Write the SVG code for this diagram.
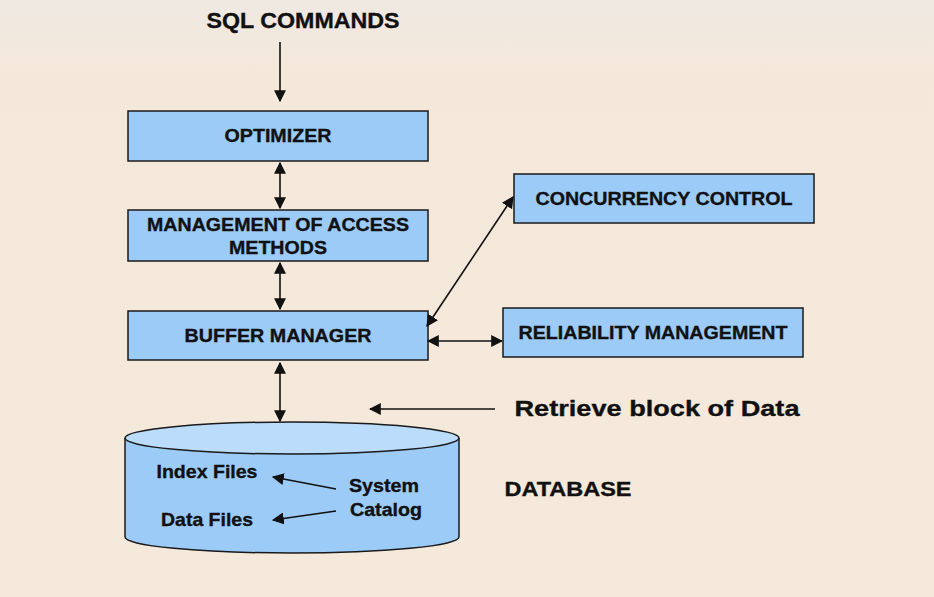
<svg xmlns="http://www.w3.org/2000/svg" width="934" height="597" viewBox="0 0 934 597">
<defs>
<marker id="ah" viewBox="0 0 10 10" refX="9" refY="5" markerWidth="12" markerHeight="12" markerUnits="userSpaceOnUse" orient="auto-start-reverse"><path d="M0,0 L10,5 L0,10 z" fill="#111"/></marker>
<linearGradient id="bg" x1="0" y1="0" x2="0" y2="1"><stop offset="0" stop-color="#efe9e2"/><stop offset="0.12" stop-color="#f4e8da"/><stop offset="1" stop-color="#f5e9dc"/></linearGradient>
</defs>
<style>
.box{fill:#9ccbf7;stroke:#1a1a1a;stroke-width:1.5}
.t{font-family:"Liberation Sans",Arial,sans-serif;font-weight:bold;fill:#111;text-anchor:middle;stroke:#111;stroke-width:0.35}
.bt{font-size:19px}
.c{stroke:#111;stroke-width:1.6;fill:none}
</style>
<rect width="934" height="597" fill="url(#bg)"/>
<text class="t" x="303" y="28" font-size="22" textLength="193" lengthAdjust="spacingAndGlyphs">SQL COMMANDS</text>
<text class="t" x="657" y="416" font-size="22" textLength="285" lengthAdjust="spacingAndGlyphs">Retrieve block of Data</text>
<text class="t" x="568" y="496" font-size="21" textLength="127" lengthAdjust="spacingAndGlyphs">DATABASE</text>
<g id="optimizer"><rect class="box" x="128" y="111" width="300" height="50"/><text class="t bt" x="278" y="142" textLength="107" lengthAdjust="spacingAndGlyphs">OPTIMIZER</text></g>
<g id="access"><rect class="box" x="128" y="210" width="300" height="51"/><text class="t bt" x="278" y="231" textLength="262" lengthAdjust="spacingAndGlyphs">MANAGEMENT OF ACCESS</text><text class="t bt" x="278" y="254" textLength="98" lengthAdjust="spacingAndGlyphs">METHODS</text></g>
<g id="buffer"><rect class="box" x="128" y="311" width="300" height="49"/><text class="t bt" x="278" y="342" textLength="187" lengthAdjust="spacingAndGlyphs">BUFFER MANAGER</text></g>
<g id="concurrency"><rect class="box" x="514" y="174" width="300" height="49"/><text class="t bt" x="664" y="205" textLength="257" lengthAdjust="spacingAndGlyphs">CONCURRENCY CONTROL</text></g>
<g id="reliability"><rect class="box" x="503" y="308" width="300" height="49"/><text class="t bt" x="653" y="339" textLength="269" lengthAdjust="spacingAndGlyphs">RELIABILITY MANAGEMENT</text></g>
<g id="database">
<path d="M125,438 L125,537 A167,16 0 0 0 459,537 L459,438" fill="#9ccbf7" stroke="#1a1a1a" stroke-width="1.5"/>
<ellipse cx="292" cy="438" rx="167" ry="16" fill="#bcdcfb" stroke="#1a1a1a" stroke-width="1.5"/>
<text class="t" x="207" y="478" font-size="18.5" textLength="101" lengthAdjust="spacingAndGlyphs">Index Files</text>
<text class="t" x="207" y="526" font-size="18.5" textLength="92" lengthAdjust="spacingAndGlyphs">Data Files</text>
<text class="t" x="384" y="492" font-size="18.5" textLength="70" lengthAdjust="spacingAndGlyphs">System</text>
<text class="t" x="386" y="516" font-size="18.5" textLength="72" lengthAdjust="spacingAndGlyphs">Catalog</text>
</g>
<g id="connectors">
<line class="c" x1="280" y1="42" x2="280" y2="101" marker-end="url(#ah)"/>
<line class="c" x1="280" y1="163" x2="280" y2="208" marker-start="url(#ah)" marker-end="url(#ah)"/>
<line class="c" x1="280" y1="263" x2="280" y2="309" marker-start="url(#ah)" marker-end="url(#ah)"/>
<line class="c" x1="280" y1="363" x2="280" y2="421" marker-start="url(#ah)" marker-end="url(#ah)"/>
<line class="c" x1="427" y1="326" x2="513" y2="197" marker-start="url(#ah)" marker-end="url(#ah)"/>
<line class="c" x1="428" y1="341" x2="502" y2="341" marker-start="url(#ah)" marker-end="url(#ah)"/>
<line class="c" x1="495" y1="409" x2="370" y2="409" marker-end="url(#ah)"/>
<line class="c" x1="336" y1="489" x2="273" y2="477" marker-end="url(#ah)"/>
<line class="c" x1="336" y1="511" x2="273" y2="520" marker-end="url(#ah)"/>
</g>
</svg>
